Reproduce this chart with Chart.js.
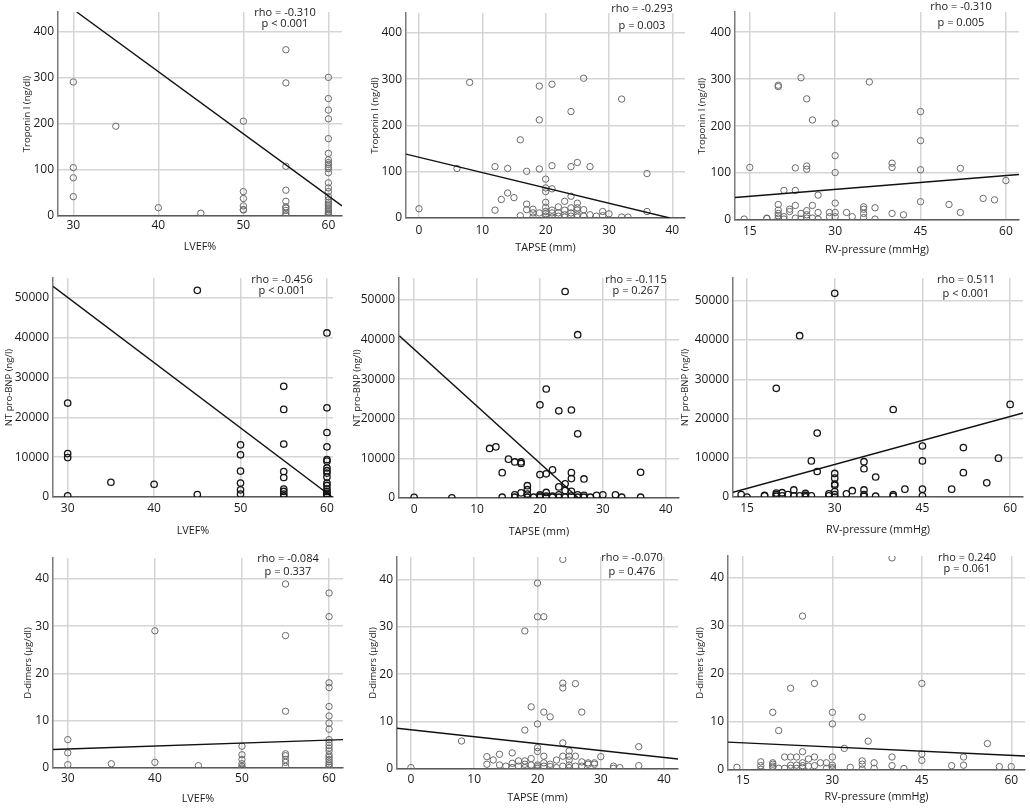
<!DOCTYPE html>
<html>
<head>
<meta charset="utf-8">
<script src="https://cdn.jsdelivr.net/npm/chart.js@4.4.1/dist/chart.umd.min.js"></script>
<style>
  html, body { margin: 0; padding: 0; background: #fff; }
  body { width: 1030px; height: 808px; position: relative; overflow: hidden; }
  canvas { position: absolute; }
</style>
</head>
<body>
<script>
// axis titles per row / column
const yTitles = ['Troponin I (ng/dl)', 'NT pro-BNP (ng/l)', 'D-dimers (\u00b5g/dl)'];
const xTitles = ['LVEF%', 'TAPSE (mm)', 'RV-pressure (mmHg)'];

// tick values per column (x) and row (y)
const xTicks = [[30, 40, 50, 60], [0, 10, 20, 30, 40], [15, 30, 45, 60]];
const yTicks = [[0, 100, 200, 300, 400], [0, 10000, 20000, 30000, 40000, 50000], [0, 10, 20, 30, 40]];

// Spearman results printed in each panel
const stats = [
  ['rho = -0.310', 'p < 0.001'], ['rho = -0.293', 'p = 0.003'], ['rho = -0.310', 'p = 0.005'],
  ['rho = -0.456', 'p < 0.001'], ['rho = -0.115', 'p = 0.267'], ['rho = 0.511', 'p < 0.001'],
  ['rho = -0.084', 'p = 0.337'], ['rho = -0.070', 'p = 0.476'], ['rho = 0.240', 'p = 0.061']
];

const troponinLvef = [[30,291],[30,105],[30,83],[30,42],[35,195],[40,18],[45,6],
  [50,206],[50,53],[50,38],[50,22],[50,14],[50,13],
  [55,361],[55,289],[55,108],[55,56],[55,32],[55,20],[55,17],[55,12],[55,6],[55,2],
  [60,301],[60,255],[60,230],[60,211],[60,168],[60,136],[60,122],[60,116],[60,112],[60,107],[60,103],[60,94],
  [60,72],[60,61],[60,53],[60,42],[60,35],[60,30],[60,26],[60,22],[60,17],[60,13],[60,9],[60,6],[60,4],[60,1.5]];
const troponinTapse = [[0,20],[6,107],[8,293],[12,17],[12,111],[13,40],[14,54],[14,107],[15,44],[16,169],[16,5],
  [17,101],[17,30],[17,18],[18,19],[18,11],[18,2],[19,285],[19,212],[19,106],[19,11],
  [20,84],[20,65],[20,57],[20,34],[20,23],[20,14],[20,9],[20,4],[21,289],[21,113],[21,63],[21,17],[21,11],[21,2],
  [22,24],[22,11],[22,4],[23,36],[23,17],[23,7],[23,2],[24,230],[24,111],[24,47],[24,22],[24,11],[24,4],
  [25,120],[25,32],[25,22],[25,17],[25,7],[25,2],[26,302],[26,18],[26,4],[27,111],[27,7],[28,4],[29,14],[29,5],
  [30,9],[32,257],[32,2],[33,2],[36,96],[36,14]];
const troponinRvp = [[14,2],[15,112],[18,4],[18,3],[20,287],[20,284],[20,33],[20,21],[20,14],[20,9],[20,4],
  [21,63],[21,7],[21,2],[22,23],[22,18],[23,111],[23,63],[23,31],[23,4],[24,303],[24,14],[24,2],
  [25,258],[25,115],[25,108],[25,20],[25,11],[25,4],[26,213],[26,31],[26,4],[27,53],[27,16],[27,2],[29,16],[29,7],
  [30,206],[30,137],[30,101],[30,36],[30,16],[30,7],[32,16],[33,7],[35,28],[35,23],[35,14],[35,5],[36,294],
  [37,26],[37,2],[40,121],[40,112],[40,14],[42,11],[45,231],[45,169],[45,107],[45,39],[50,33],[52,110],[52,16],
  [56,46],[58,43],[60,84]];
const bnpLvef = [[30,23600],[30,10900],[30,9900],[30,300],[35,3700],[40,3200],[45,51900],[45,600],
  [50,13100],[50,10600],[50,6500],[50,3500],[50,1800],[50,750],
  [55,27800],[55,22000],[55,13300],[55,6400],[55,4900],[55,2000],[55,1400],[55,750],[55,200],
  [60,41200],[60,22400],[60,16200],[60,12600],[60,9400],[60,9000],[60,7300],[60,6600],[60,6000],[60,5000],
  [60,3500],[60,2900],[60,2000],[60,1400],[60,900],[60,600],[60,250],[60,100]];
const bnpTapse = [[0,150],[6,50],[12,12500],[13,12900],[14,6400],[14,200],[15,9800],[16,9100],[16,800],[16,200],
  [17,9100],[17,8700],[17,1300],[18,3100],[18,2100],[18,1000],[18,200],[19,200],
  [20,23500],[20,5900],[20,800],[20,500],[20,200],[21,27500],[21,6100],[21,1400],[21,500],[21,200],
  [22,7100],[22,500],[22,200],[23,22000],[23,2800],[23,800],[23,200],[24,52100],[24,3600],[24,1900],[24,200],
  [25,22200],[25,6400],[25,4900],[25,1700],[25,500],[26,41200],[26,16200],[26,800],[26,200],
  [27,4800],[27,700],[27,200],[28,200],[29,700],[30,800],[32,800],[33,200],[36,6500],[36,200]];
const bnpRvp = [[14,600],[15,0],[18,400],[18,300],[20,27700],[20,1000],[20,600],[20,200],[21,1100],[21,300],
  [22,600],[23,1800],[23,300],[24,41100],[24,300],[25,900],[25,400],[25,50],[26,9200],[26,300],[27,16300],[27,6500],
  [29,800],[29,300],[30,51900],[30,6000],[30,4800],[30,3300],[30,3000],[30,1400],[30,600],[30,0],[32,800],[33,1600],
  [35,9000],[35,7200],[35,1800],[35,600],[35,200],[37,5100],[37,200],[40,22300],[40,600],[40,200],[42,2000],
  [45,13000],[45,9200],[45,2000],[45,300],[50,2000],[52,12600],[52,6200],[56,3600],[58,9900],[60,23600]];
const ddimerLvef = [[30,6.0],[30,3.2],[30,0.7],[35,0.9],[40,29.0],[40,1.2],[45,0.5],
  [50,4.6],[50,2.8],[50,1.8],[50,0.9],[50,0.35],[50,0],
  [55,38.9],[55,28.0],[55,12.0],[55,3.0],[55,2.6],[55,1.8],[55,1.2],[55,0.35],
  [60,37.0],[60,32.0],[60,18.0],[60,17.0],[60,13.0],[60,11.0],[60,9.5],[60,8.2],[60,6.0],[60,5.4],[60,4.8],
  [60,4.2],[60,3.6],[60,2.8],[60,2.3],[60,1.8],[60,1.3],[60,0.85],[60,0.5],[60,0.15]];
const ddimerTapse = [[0,0.3],[8,5.9],[12,2.6],[12,1.0],[13,1.9],[14,3.1],[14,0.85],[15,0.6],[16,3.4],[16,1.2],[16,0.3],
  [17,1.7],[17,0.6],[18,29.1],[18,8.2],[18,1.7],[18,1.0],[18,0.3],[19,13.1],[19,2.2],[19,0.85],
  [20,39.2],[20,32.1],[20,9.5],[20,4.5],[20,3.7],[20,0.85],[20,0.5],[20,0.15],
  [21,32.1],[21,12.0],[21,2.7],[21,1.3],[21,0.6],[22,11.0],[22,1.0],[22,0.5],[23,1.9],[23,0.3],
  [24,44.2],[24,18.1],[24,17.1],[24,5.5],[24,2.7],[24,0.6],[25,3.8],[25,2.7],[25,1.9],[25,0.85],[25,0.3],
  [26,18.0],[26,2.7],[26,0.6],[27,12.0],[27,1.5],[27,0.6],[28,1.3],[28,1.0],[29,1.3],[29,1.0],[30,2.6],
  [32,0.6],[32,0.15],[33,0.3],[36,4.7],[36,0.7]];
const ddimerRvp = [[14,0.55],[18,1.7],[18,0.9],[18,0.15],[20,12.0],[20,1.5],[20,1.2],[20,0.8],[20,0.5],
  [21,8.2],[21,0.35],[22,2.7],[22,0.35],[23,17.0],[23,2.7],[23,1.0],[23,0.35],[24,2.7],[24,1.0],[24,0.35],
  [25,32.0],[25,3.8],[25,1.5],[25,0.9],[25,0.5],[26,2.3],[26,0.8],[27,18.0],[27,2.7],[27,0.9],[28,1.5],
  [29,1.5],[29,0.35],[30,12.0],[30,9.6],[30,2.7],[30,1.0],[30,0.5],[30,0.2],[32,4.5],[33,0.55],
  [35,11.0],[35,1.9],[35,1.2],[35,0.2],[36,6.0],[37,1.5],[37,0.35],[40,44.1],[40,2.7],[40,0.9],[42,0.3],
  [45,18.0],[45,3.3],[45,2.0],[50,0.9],[52,2.7],[52,1.0],[56,5.5],[58,0.7],[60,0.7]];

// fitted regression line end points
const fitLines = [
  [[30.4,443],[61.6,22]], [[-2.05,138],[39.6,0]], [[12.4,48],[62.3,97]],
  [[28.3,52900],[60.6,0]], [[-2.35,40900],[26.1,0]], [[12.6,1200],[62.2,21400]],
  [[28.3,3.9],[61.6,6.0]], [[-2.2,8.6],[42.2,2.1]], [[12.5,5.8],[62.3,2.9]]
];

const series = [troponinLvef, troponinTapse, troponinRvp, bnpLvef, bnpTapse, bnpRvp, ddimerLvef, ddimerTapse, ddimerRvp];

// axis ranges
const xRanges = [[28.2,61.6],[-2.05,42],[12.4,62.3],[28.3,60.7],[-2.4,42.1],[12.6,62.2],[28.3,61.6],[-2.2,42.2],[12.5,62.3]];
const yMax = [443, 443, 443, 55000, 55500, 55800, 44.4, 44.7, 44.5];

// ---- layout (page pixels) ----
const cellX = [[0, 348], [345, 690], [672, 1030]];
const cellY = [[0, 262], [262, 540], [540, 808]];
// plot area: left, top, right, bottom
const plotRects = [
  [58, 12, 342, 216], [406, 13, 686, 218], [735, 12, 1019, 220],
  [53, 278, 333, 497], [399, 278, 679, 498], [733, 278, 1023, 497],
  [53, 558, 345, 768], [397, 557, 678, 769], [728, 556, 1027, 770]
];
const yTitleX = [27, 375, 702, 9, 357, 685, 28, 373, 700];
const xTitleY = [247, 248, 250, 531, 532, 530, 799, 798, 797];
const xTickGap = [2, 5, 4, 4, 4, 4, 3, 3, 3];
// stat text: centre x, line1 y, line2 y
const statPos = [
  [285, 13, 24], [642, 9, 26], [961, 7, 23],
  [282, 280, 291], [636, 280, 291], [966, 280, 294],
  [288, 559, 572], [632, 558, 572], [967, 558, 569]
];

Chart.defaults.font.family = "'Open Sans', sans-serif";
Chart.defaults.color = '#1a1a1a';

for (let i = 0; i < 9; i++) {
  const row = Math.floor(i / 3), col = i % 3;
  const [cx0, cx1] = cellX[col];
  const [cy0, cy1] = cellY[row];
  const [pl, pt, pr, pb] = plotRects[i];
  const W = cx1 - cx0, H = cy1 - cy0;

  const canvas = document.createElement('canvas');
  canvas.width = W; canvas.height = H;
  canvas.style.left = cx0 + 'px';
  canvas.style.top = cy0 + 'px';
  canvas.style.width = W + 'px';
  canvas.style.height = H + 'px';
  document.body.appendChild(canvas);

  const markerColor = row === 1 ? '#151515' : '#6a6a6a';
  const yTitleFont = { size: 9.5, lineHeight: 1.2 };
  const xTitleFont = { size: 10.8, lineHeight: 1.2 };

  const statPlugin = {
    id: 'stat' + i,
    afterDraw(chart) {
      const ctx = chart.ctx;
      const [sx, sy1, sy2] = statPos[i];
      ctx.save();
      ctx.font = "11px 'Open Sans', sans-serif";
      ctx.fillStyle = '#1a1a1a';
      ctx.textAlign = 'center';
      ctx.textBaseline = 'middle';
      ctx.fillText(stats[i][0], sx - cx0, sy1 - cy0);
      ctx.fillText(stats[i][1], sx - cx0, sy2 - cy0);
      ctx.restore();
    }
  };

  new Chart(canvas.getContext('2d'), {
    type: 'scatter',
    data: {
      datasets: [
        {
          data: fitLines[i].map(([x, y]) => ({ x, y })),
          showLine: true,
          borderColor: '#111',
          borderWidth: 1.4,
          pointRadius: 0,
          order: 0
        },
        {
          data: series[i].map(([x, y]) => ({ x, y })),
          pointStyle: 'circle',
          pointRadius: 3.2,
          borderWidth: row === 1 ? 1.3 : 1,
          borderColor: markerColor,
          backgroundColor: 'rgba(0,0,0,0)',
          order: 1
        }
      ]
    },
    options: {
      responsive: false,
      animation: false,
      events: [],
      layout: { padding: { left: 0, bottom: 0, top: pt - cy0, right: cx1 - pr } },
      plugins: { legend: { display: false }, tooltip: { enabled: false } },
      scales: {
        x: {
          type: 'linear',
          min: xRanges[i][0],
          max: xRanges[i][1],
          afterBuildTicks(s) { s.ticks = xTicks[col].map(v => ({ value: v })); },
          ticks: {
            autoSkip: false,
            maxRotation: 0,
            padding: xTickGap[i],
            font: { size: 12 },
            callback: v => String(v)
          },
          grid: { color: '#d5d5d5', lineWidth: 1.5, drawTicks: false },
          border: { color: '#5a5a5a', width: 1.5 },
          title: {
            display: true,
            text: xTitles[col],
            font: xTitleFont,
            // top padding only affects the fitted size, which is forced below
            padding: { top: -30, bottom: (cy1 - xTitleY[i]) - 6.5 }
          },
          afterFit(s) {
            s.height = cy1 - pb;
            s.paddingLeft = 0; s.paddingRight = 0;
          }
        },
        y: {
          type: 'linear',
          min: 0,
          max: yMax[i],
          afterBuildTicks(s) { s.ticks = yTicks[row].map(v => ({ value: v })); },
          ticks: {
            autoSkip: false,
            padding: 4,
            font: { size: 12 },
            callback: v => String(v)
          },
          grid: { color: '#d5d5d5', lineWidth: 1.5, drawTicks: false },
          border: { color: '#7a7a7a', width: 1.5 },
          title: {
            display: true,
            text: yTitles[row],
            font: yTitleFont,
            padding: { top: (yTitleX[i] - cx0) - 5.7, bottom: 0 }
          },
          afterFit(s) {
            s.width = pl - cx0;
            s.paddingTop = 0; s.paddingBottom = 0;
          }
        }
      }
    },
    plugins: [statPlugin]
  });
}
</script>
</body>
</html>
